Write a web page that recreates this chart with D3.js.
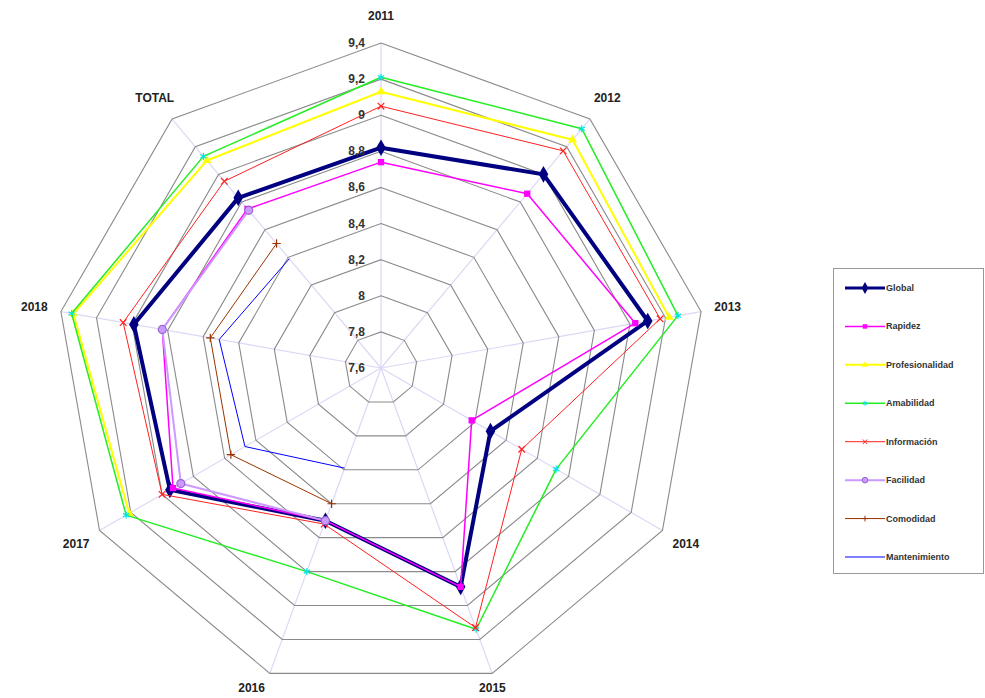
<!DOCTYPE html>
<html><head><meta charset="utf-8">
<script src="https://cdn.jsdelivr.net/npm/d3@7"></script>
<style>body{margin:0;background:#fff}svg{display:block}</style>
</head><body>
<svg id="c" width="985" height="698"></svg>
<script>
const axes = ["2011","2012","2013","2014","2015","2016","2017","2018","TOTAL"];
const tickValues = [7.6,7.8,8.0,8.2,8.4,8.6,8.8,9.0,9.2,9.4];
const tickLabels = ["7,6","7,8","8","8,2","8,4","8,6","8,8","9","9,2","9,4"];
const seriesNames = ["Global","Rapidez","Profesionalidad","Amabilidad","Información","Facilidad","Comodidad","Mantenimiento"];
const globalV        = [8.82, 9.00, 9.10, 8.30, 8.89, 8.50, 8.95, 8.99, 8.83];
const rapidez        = [8.74, 8.86, 9.03, 8.18, 8.89, 8.50, 8.93, 8.83, 8.75];
const profesionalidad= [9.13, 9.25, 9.22, null, null, null, 9.21, 9.33, 9.10];
const amabilidad     = [9.21, 9.33, 9.27, 8.72, 9.14, 8.80, 9.23, 9.34, 9.13];
const informacion    = [9.05, 9.17, 9.17, 8.50, 9.13, 8.52, 9.00, 9.05, 8.95];
const facilidad      = [null, null, null, null, null, 8.50, 8.88, 8.83, 8.74];
const comodidad      = [null, null, null, null, null, 8.40, 8.56, 8.56, 8.50];
const mantenimiento  = [null, null, null, null, null, 8.19, 8.47, 8.51, 8.39];
const seriesValues = [globalV, rapidez, profesionalidad, amabilidad, informacion, facilidad, comodidad, mantenimiento];

const styles = [
  {color:"#000080", w:4, sym:d3.symbolDiamond, size:80, fill:"#000080"},
  {color:"#ff00ff", w:1.5, sym:d3.symbolSquare, size:40, fill:"#ff00ff"},
  {color:"#ffff00", w:2, sym:d3.symbolTriangle, size:35, fill:"#ffff00"},
  {color:"#22ee22", w:1.5, sym:d3.symbolAsterisk, size:35, fill:"none", stroke:"#00e5e5"},
  {color:"#ff2020", w:1, sym:d3.symbolTimes, size:30, fill:"none", stroke:"#ff2020"},
  {color:"#cc99ff", w:2, sym:d3.symbolCircle, size:50, fill:"#cc99ff", stroke:"#9966cc"},
  {color:"#993300", w:1, sym:d3.symbolPlus, size:25, fill:"none", stroke:"#993300"},
  {color:"#0000ff", w:1, sym:null}
];

const svg = d3.select("#c");
const cx = 381, cy = 368, R = 325;
const r = d3.scaleLinear().domain([7.6, 9.4]).range([0, R]);
const ang = d3.scalePoint().domain(axes).range([0, 2*Math.PI*(axes.length-1)/axes.length]);
const pt = (a, v) => [cx + r(v)*Math.sin(ang(a)), cy - r(v)*Math.cos(ang(a))];

// spokes
svg.append("g").selectAll("line").data(axes).join("line")
  .attr("x1", cx).attr("y1", cy)
  .attr("x2", a => pt(a, 9.4)[0]).attr("y2", a => pt(a, 9.4)[1])
  .attr("stroke", "#dcd8f4").attr("stroke-width", 1.2);

// rings
svg.append("g").selectAll("polygon").data(tickValues.slice(1)).join("polygon")
  .attr("points", v => axes.map(a => pt(a, v).join(",")).join(" "))
  .attr("fill", "none").attr("stroke", "#8a8a8a").attr("stroke-width", 1.1);

// series
const line = d3.line().defined(d => d.v != null).x(d => pt(d.a, d.v)[0]).y(d => pt(d.a, d.v)[1]);
seriesValues.forEach((vals, i) => {
  const st = styles[i];
  const pts = axes.map((a, j) => ({a, v: vals[j]}));
  pts.push(pts[0]);
  svg.append("path").attr("d", line(pts)).attr("fill", "none")
    .attr("stroke", st.color).attr("stroke-width", st.w).attr("stroke-linejoin", "round");
  if (st.sym) {
    svg.append("g").selectAll("path").data(pts.slice(0, axes.length).filter(d => d.v != null)).join("path")
      .attr("transform", d => `translate(${pt(d.a, d.v)})`)
      .attr("d", d3.symbol().type(st.sym).size(st.size))
      .attr("fill", st.fill).attr("stroke", st.stroke || "none").attr("stroke-width", 1.2);
  }
});

// ring labels
svg.append("g").selectAll("text").data(tickValues).join("text")
  .attr("x", cx - 16).attr("y", v => cy - r(v))
  .attr("text-anchor", "end").attr("dominant-baseline", "central")
  .attr("font-family", "Liberation Sans, Arial, sans-serif").attr("font-weight", "bold")
  .attr("font-size", 12).attr("fill", "#333")
  .text((v, i) => tickLabels[i]);

// axis labels
svg.append("g").selectAll("text").data(axes).join("text")
  .attr("x", a => cx + 352*Math.sin(ang(a)) - (Math.cos(ang(a)) < -0.9 ? 9 : 0))
  .attr("y", a => Math.min(cy - 352*Math.cos(ang(a)), 688))
  .attr("text-anchor", "middle").attr("dominant-baseline", "central")
  .attr("font-family", "Liberation Sans, Arial, sans-serif").attr("font-weight", "bold")
  .attr("font-size", 12).attr("fill", "#222")
  .text(a => a);

// legend
const lg = svg.append("g");
lg.append("rect").attr("x", 833.5).attr("y", 268.5).attr("width", 150).attr("height", 305)
  .attr("fill", "#fff").attr("stroke", "#999");
const ly = d3.scalePoint().domain(seriesNames).range([288, 557]);
seriesNames.forEach((n, i) => {
  const st = styles[i], y = ly(n);
  lg.append("line").attr("x1", 845).attr("x2", 885).attr("y1", y).attr("y2", y)
    .attr("stroke", st.color).attr("stroke-width", Math.min(st.w, 3));
  if (st.sym) lg.append("path").attr("transform", `translate(865,${y})`)
    .attr("d", d3.symbol().type(st.sym).size(st.size*0.5))
    .attr("fill", st.fill).attr("stroke", st.stroke || "none");
  lg.append("text").attr("x", 886).attr("y", y).attr("dominant-baseline", "central")
    .attr("font-family", "Liberation Sans, Arial, sans-serif").attr("font-weight", "bold")
    .attr("font-size", 9).attr("fill", "#333").text(n);
});
</script>
</body></html>
